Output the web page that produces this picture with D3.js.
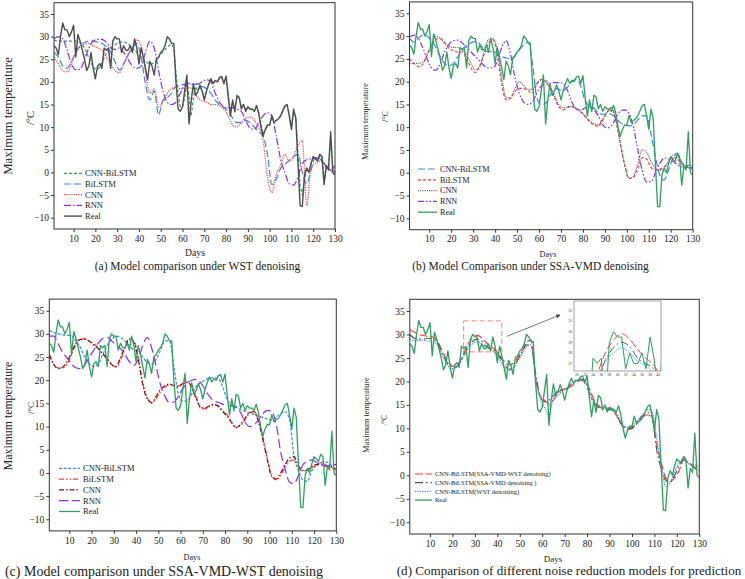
<!DOCTYPE html>
<html>
<head>
<meta charset="utf-8">
<script src="https://cdn.jsdelivr.net/npm/d3@7"></script>
<style>
body { margin: 0; background: #fff; }
svg { display: block; }
text { font-family: "Liberation Serif", "Times New Roman", serif; fill: #222; }
</style>
</head>
<body>
<svg id="chart" width="745" height="579"></svg>
<script>
/*
 * Maximum temperature prediction, four model comparison panels
 */

// ---- data ----
var dayDomain = [1, 130];
var tempDomain = [-12.5, 37.5];
var xTicks = d3.range(10, 131, 10);
var yTicks = d3.range(-10, 36, 5);
var allDays = d3.range(1, 131);
var sampleDays = d3.range(1, 130, 2).concat([130]);

var realTemp = [28, 27.5, 26, 30, 33, 31.5, 31.5, 30, 31, 32.5,
    25.5, 30.5, 29, 27, 25, 22.5, 23.5, 26.5, 23, 20.7,
    23.5, 24, 23, 27.5, 27, 27.5, 23, 29, 30, 29.5,
    29.5, 26.5, 28, 27, 27, 28, 26.5, 29.5, 27.5, 24,
    27.5, 25.5, 23, 20.5, 24.5, 23.5, 21.5, 25, 25.5, 26.5,
    27, 28, 30, 29.5, 28.5, 28.5, 20, 14, 13.5, 14.5,
    18, 21.5, 10.7, 16, 19.5, 17, 17.8, 19.3, 18, 16,
    18, 19.5, 20.7, 19.6, 20.3, 20, 21, 21.2, 19.6, 21.3,
    16.6, 12.5, 16, 13.4, 17, 16.6, 14, 15, 13.5, 14.5,
    14, 14, 13.5, 14.8, 13, 10, 8, 9.5, 10.5, 10.4,
    12.6, 11, 11.5, 11.8, 12.5, 13.6, 14.7, 15, 12.5, 9.5,
    14, 12, 2, -7.4, -7.5, -0.5, 1, 0, 2, 3.5,
    3, 2.5, 4, 3.5, -2.7, 1.5, 0.6, 9, 0, -0.5];

// (a) WST denoising
var wstCnnBilstm = [29.2, 29.1, 29, 29, 29, 29, 29, 29, 29, 29,
    29, 28.9, 28.7, 28.2, 27.5, 26.5, 25.3, 24.2, 23.3, 22.8,
    22.8, 23.3, 24.2, 25.3, 26.3, 27, 27.5, 27.9, 28.2, 28.5,
    28.7, 28.8, 28.8, 28.7, 28.4, 28, 27.5, 27, 26.5, 26,
    25.5, 25, 24.6, 24.2, 24, 24, 24.3, 24.8, 25.4, 26,
    26.6, 27.2, 27.7, 28.1, 28.3, 27.5, 22, 17, 14.5, 14.5,
    16.5, 20, 16.5, 12.5, 16.5, 19, 18, 19, 18, 16.5,
    17.8, 19.3, 20.5, 19.8, 20.2, 20, 20.8, 21, 20, 20.8,
    17.5, 13.5, 15.5, 14, 16.5, 16.5, 14.5, 15, 14, 14.3,
    14, 14, 13.6, 14.5, 13.3, 10.8, 8.5, 9.3, 10.3, 10.5,
    12.2, 11.3, 11.5, 11.8, 12.4, 13.4, 14.5, 14.9, 13, 10,
    13.3, 12.3, 4, -3, -5, -1.5, 0.5, 0.3, 1.8, 3.2,
    3, 2.7, 3.7, 3.5, -1.5, 1, 0.8, 7, 1, 0];
var wstBilstm = [26.5, 25.5, 23.5, 23, 24.5, 26.5, 28, 28.7, 29, 29,
    28.8, 28.5, 27.8, 26.5, 24.5, 22.6, 24, 26, 27.5, 28.5,
    25.5, 19.5, 16, 18, 12.7, 16, 16.5, 17.5, 19, 19.2,
    19.5, 19.3, 19.5, 19.5, 19, 18.5, 17.5, 16, 15, 14.3,
    13.5, 12, 11, 11, 11.5, 11, 10, 9, 8, 4,
    -2.7, -1.5, 0.8, 1.8, 2.7, 3.5, 4, 0, -2.5, 0.5,
    3.3, 3, 2, 1, 0, -0.5];
var wstCnn = [25.5, 24, 22.5, 22.2, 24, 26.5, 27.7, 28.3, 28.5, 28,
    27.5, 27, 25.5, 24, 22.5, 22, 24, 25.8, 27.5, 29.3,
    28, 22, 17.5, 18.5, 14.5, 15.5, 17.5, 18.5, 18.8, 18.5,
    18.5, 18.8, 18, 16.5, 15.8, 15.5, 15, 15, 14.7, 14,
    12.5, 10.5, 10, 11, 12, 12.2, 11.5, 10, 7, -1,
    -4.5, -0.5, 1.5, 4, 2.5, 3.5, 6, 7, -7.3, 1,
    2, 2.5, 2, 1, 0, 0.5];
var wstRnn = [29.5, 30, 29.5, 27, 24, 22.7, 22.8, 25, 27.5, 29,
    29.4, 29.4, 28.8, 27.5, 27.2, 27.5, 26.5, 25, 23.5, 23,
    23.5, 26.5, 29, 27.5, 22.5, 18, 15.5, 15, 15.5, 17.5,
    19.3, 19.7, 19.5, 19.5, 20, 20.5, 20, 17.5, 15.5, 14.5,
    14.3, 14.3, 14, 13.5, 11.5, 9.8, 9.5, 11, 12.5, 13.2,
    12.5, 8, 3, 0, -2.5, -2.8, -1, 2, 2.8, 3,
    3.2, 3, 2, 0.5, 0.8, 1.5];

// (b) SSA-VMD denoising
var svCnnBilstm = [29.5, 28.7, 29.5, 30.2, 30, 29, 27.5, 25.5, 24, 23.5,
    24, 25.5, 27, 28, 28.5, 28.8, 28.3, 27, 26.5, 26.8,
    26, 25.5, 25.2, 25, 25.8, 27, 28, 28.7, 24, 16.5,
    15, 15.2, 17, 18.5, 18.3, 18, 18.8, 20, 20.5, 19,
    15.8, 14.7, 14.2, 13.2, 12.8, 13, 12.8, 12, 11, 10.5,
    10.3, 10.6, 11.6, 12.5, 12.5, 8.5, 3.5, -0.5, -1.6, 0.6,
    3.2, 4.3, 2.3, 1.4, 1, 1];
var svBilstm = [25, 24, 23.3, 23.8, 25.8, 27.8, 29.3, 29.5, 28.5, 27.3,
    26.8, 26.5, 26.5, 25, 23, 22, 23.5, 26, 28.5, 29.2,
    26, 19.5, 16, 16.3, 17.8, 18.5, 18.5, 18, 17.5, 19.5,
    20.5, 20, 18.5, 16.5, 14.5, 13.8, 14.3, 14.5, 14, 13.3,
    12.3, 11.2, 10.5, 10.2, 11.5, 13.2, 14.3, 11.5, 6.5, 1.8,
    -1.3, -1, 1, 3.3, 3, 1.2, 0.6, 0.8, 1.3, 2.2,
    3.5, 3, 2, 1.2, 1.2, 1.2];
var svCnn = [24, 24, 24, 24.3, 26, 28.3, 30, 29.5, 28.5, 27.8,
    27.5, 27.5, 27, 25.8, 24, 22.6, 23.3, 26.5, 29.3, 29.5,
    27, 21, 16.5, 16.5, 18.5, 20, 19.2, 18.3, 18.3, 19.5,
    20.3, 20.3, 19, 17, 15, 14.3, 14.5, 14.5, 14.2, 13.5,
    12.5, 11.5, 10.8, 10.5, 11.8, 13.3, 14.3, 11.5, 6.5, 1.8,
    -1.2, -0.8, 2, 5, 4.5, 2.5, 1, 0.5, 1, 2.5,
    3.9, 3.5, 2, 1.2, 1, 1];
var svRnn = [29.8, 30.2, 29.5, 27.5, 25, 23, 22.5, 24, 26.5, 28.2,
    29, 29.1, 28.5, 27.5, 26.5, 25.5, 24.5, 23.5, 23, 23,
    24.5, 27.5, 29, 26, 21, 17.5, 15.5, 15, 15.5, 17.5,
    19, 19.5, 19.6, 19.8, 19.8, 19.6, 18, 15.5, 14, 13.8,
    14.2, 14.5, 13.8, 12.5, 10.5, 9.8, 10.3, 12, 13.5, 13.8,
    13, 10, 5, 0.5, -2, -2, 0, 2, 3.2, 3,
    2.5, 1.8, 1.3, 1.5, 1.7, 1.7];

// (c) SSA-VMD-WST denoising
var svwCnnBilstm = [30.8, 30.3, 30, 29.8, 29.7, 29.6, 28.5, 27, 25, 23.5,
    23, 23.5, 25.5, 27.5, 28.8, 29.5, 29.2, 28.5, 27.5, 26.5,
    26.3, 25, 23.8, 23.5, 24.5, 26.5, 28.5, 28.5, 23, 17,
    15.5, 15.5, 17, 18.7, 19.5, 20, 20.5, 20.5, 20.3, 18.5,
    15.8, 14.7, 14.2, 13.7, 13.3, 13, 12.6, 12.2, 12, 11.6,
    11.4, 12, 12.8, 13.2, 11.5, 3.5, 0.5, -1.5, -1.8, 0.5,
    1.7, 2.3, 2.4, 2, 1, 0.6];
var svwBilstm = [25.4, 23.5, 22.7, 22.6, 23.5, 25.5, 27.8, 28.8, 29, 28.5,
    27.8, 27, 25.8, 24.8, 23.5, 22.8, 24.3, 26.8, 28.7, 28.5,
    25, 19.5, 16.3, 15, 16, 17.5, 18.5, 19, 19, 18.8,
    19.2, 19.5, 18.8, 16.5, 14, 13.8, 14.3, 14.7, 14.5, 13.5,
    12.5, 11, 9.7, 10.2, 11.5, 12.9, 13.3, 11.5, 7.8, 3.2,
    -0.5, -1.5, -0.5, 1.2, 2.5, 2.8, 1, 0.4, 0.8, 1.2,
    1.5, 2.2, 1.8, 1.2, 0.8, 0.6];
var svwCnn = [25.6, 23.4, 22.5, 22.8, 24, 26, 28, 28.8, 28.8, 28.4,
    27.6, 26.8, 25.7, 24.6, 23.4, 23, 24.8, 27.2, 29, 28.2,
    24.5, 19, 16, 15.2, 16.5, 18, 18.8, 19.2, 18.8, 18.6,
    19.3, 19.6, 18.5, 16, 14.2, 14, 14.5, 14.8, 14.3, 13.2,
    12.2, 10.8, 9.8, 10.5, 11.8, 13, 13.2, 11, 7.2, 2.8,
    -0.8, -1.3, 0, 1.8, 3.2, 3.5, 1.5, 0.5, 0.6, 1.5,
    1.8, 2, 1.5, 1.5, 1, 0.8];
var svwRnn = [29.5, 29.5, 27.8, 26, 24.8, 23.5, 22.7, 22.5, 23.3, 25,
    26.5, 28, 29, 29.3, 28.5, 27.5, 26.8, 25.5, 24, 23.2,
    24.5, 27.5, 29.2, 27, 23, 19, 16.5, 15.2, 15.3, 16.5,
    18.2, 19.3, 20, 20.2, 19.5, 18, 16.5, 15.5, 15.2, 14.8,
    14.5, 14.5, 14.2, 13, 11, 10, 10.3, 11.5, 12.8, 13.5,
    13.3, 10.5, 4.5, 0.8, -2, -2.3, -0.5, 1.8, 2.5, 2.8,
    2.3, 1.8, 1.5, 1.6, 1.8, 1.8];

// (d) CNN-BiLSTM under different denoising
var cmpSvw = [31, 30.5, 30, 29.8, 29.6, 29.5, 28.8, 27, 25, 23.7,
    23.2, 24, 26, 28, 29.2, 29.8, 29.3, 28.3, 27.5, 26.8,
    25.5, 24.3, 23.5, 23.8, 25, 26.5, 28.3, 28.8, 21, 17,
    16, 15.2, 16, 17.5, 18.3, 18.5, 19, 19.8, 20.2, 20,
    18.5, 16.2, 14.7, 14.3, 14.3, 14.3, 12.8, 11, 10, 9.8,
    10.3, 11.5, 12.5, 12.9, 12, 6.5, 2.8, -0.5, -1.3, -0.5,
    1, 3.2, 2.8, 2, 1.3, 1.1];
var cmpSv = [30, 29.2, 29, 29, 29.2, 29, 28.5, 26.5, 24.5, 23.3,
    23, 23.8, 25.5, 27.3, 28.5, 29, 28.6, 27.5, 27, 26.5,
    25.3, 23.7, 22.6, 22.8, 24.5, 26.3, 27.8, 27.5, 22, 17,
    15.7, 16, 17, 18, 18.3, 18.5, 19.5, 20, 20.5, 20,
    17.5, 15.5, 14.5, 14, 14, 14, 13, 11.2, 10.2, 10,
    10.5, 11.8, 12.8, 13.4, 12.5, 5.5, 1.5, -1, -1.5, 0,
    2, 3.5, 2.8, 2, 1.2, 1];
var cmpWst = [29, 28.7, 28.8, 28.8, 28.6, 28.5, 28, 26.2, 24.2, 22.8,
    22.7, 23.7, 25.5, 27.2, 28, 28.5, 28, 27.2, 26.8, 26,
    24.7, 23, 22.3, 23, 24.3, 25.8, 27.3, 27.8, 21, 16.5,
    14.5, 12.8, 16.5, 17, 18, 18.3, 19.5, 20, 20.5, 20.3,
    18, 15.5, 15, 14.5, 14.2, 13.8, 13.3, 11.5, 10.3, 10.2,
    11, 12, 13, 14, 13.5, 8, 2.5, -2.3, -1.5, 0.8,
    2.5, 3.5, 2.5, 2.3, 2, 1.5];

// zoomed window of panel (d)
var zoomBoxDays = [25, 42];
var zoomBoxTemps = [26.3, 32.9];
var insetDays = [19.3, 40.7];
var insetTemps = [26.3, 32.9];
var insetXTicks = d3.range(20, 41, 2);
var insetYTicks = d3.range(27, 33, 1);

// ---- colours ----
var GREEN = "#2f9e5e";
var BLUE = "#3a87e6";
var RED = "#ff3b3b";
var PURPLE = "#8c2bff";
var GRAY = "#4d4d4d";

var svg = d3.select("#chart");

/**
 * Build one series object
 */
function series(name, days, values, color, dash, width) {
    return { name: name, days: days, values: values, color: color, dash: dash, width: width || 1.2 };
}

var panels = [
    {
        id: "a", l: 54, r: 335, t: 2.7, b: 229,
        caption: "(a) Model comparison under WST denoising", capX: 197.5, capY: 270, capSize: 11.5,
        daysLab: { x: 195, y: 256, size: 9.7 },
        yLab: { x: 8, y: 116, size: 12.8 }, unit: { x: 30, y: 118, size: 10.5 },
        legend: { x: 64, y: 173.3, dy: 10.7, len: 18, size: 8.5 },
        series: [
            series("CNN-BiLSTM", allDays, wstCnnBilstm, GREEN, "3,2", 1.2),
            series("BiLSTM", sampleDays, wstBilstm, BLUE, "7,3", 1.2),
            series("CNN", sampleDays, wstCnn, RED, "1.2,1.2", 1.2),
            series("RNN", sampleDays, wstRnn, PURPLE, "7,2,1.5,2", 1.2),
            series("Real", allDays, realTemp, GRAY, null, 1.4)
        ]
    },
    {
        id: "b", l: 409.5, r: 692.7, t: 1.9, b: 229.7,
        caption: "(b) Model Comparison under SSA-VMD denoising", capX: 530.5, capY: 270, capSize: 11.5,
        daysLab: { x: 548, y: 256.5, size: 8.2 },
        yLab: { x: 365.5, y: 121.5, size: 8.4 }, unit: { x: 385, y: 116.5, size: 8 },
        legend: { x: 418, y: 169, dy: 10.8, len: 19, size: 8.2 },
        series: [
            series("CNN-BiLSTM", sampleDays, svCnnBilstm, BLUE, "7,3", 1.2),
            series("BiLSTM", sampleDays, svBilstm, RED, "3,2", 1.2),
            series("CNN", sampleDays, svCnn, "#555", "1,1.2", 1.2),
            series("RNN", sampleDays, svRnn, PURPLE, "6,2,1.5,2,1.5,2", 1.2),
            series("Real", allDays, realTemp, GREEN, null, 1.3)
        ]
    },
    {
        id: "c", l: 49.3, r: 336.3, t: 299.1, b: 530.9,
        caption: "(c) Model comparison under SSA-VMD-WST denoising", capX: 164, capY: 575.5, capSize: 14,
        daysLab: { x: 192, y: 560, size: 8.2 },
        yLab: { x: 7.5, y: 416, size: 11.8 }, unit: { x: 31, y: 408, size: 9 },
        legend: { x: 59, y: 468.3, dy: 10.8, len: 21, size: 8.5 },
        series: [
            series("CNN-BiLSTM", sampleDays, svwCnnBilstm, BLUE, "3,1.6", 1.2),
            series("BiLSTM", sampleDays, svwBilstm, RED, "5,2,1.5,2,1.5,2", 1.2),
            series("CNN", sampleDays, svwCnn, "#8b0a0a", "5,2,1.5,2", 1.2),
            series("RNN", sampleDays, svwRnn, PURPLE, "9,4", 1.2),
            series("Real", allDays, realTemp, GREEN, null, 1.3)
        ]
    },
    {
        id: "d", l: 409.8, r: 699.3, t: 299.3, b: 534,
        caption: "(d) Comparison of different noise reduction models for prediction", capX: 569, capY: 574.5, capSize: 13.1,
        daysLab: { x: 553, y: 561.5, size: 9 },
        yLab: { x: 366, y: 415, size: 8.2 }, unit: { x: 384.5, y: 420, size: 7.5 },
        legend: { x: 415, y: 474, dy: 8.7, len: 17, size: 6.5 },
        series: [
            series("CNN-BiLSTM(SSA-VMD-WST denoising)", sampleDays, cmpSvw, RED, "8,3", 1.2),
            series("CNN-BiLSTM(SSA-VMD denoising )", sampleDays, cmpSv, "#555", "8,3,1.5,3", 1.2),
            series("CNN-BiLSTM(WST denoising)", sampleDays, cmpWst, BLUE, "1.2,1.2", 1.2),
            series("Real", allDays, realTemp, GREEN, null, 1.3)
        ]
    }
];

/**
 * Path generator for a series on given scales
 */
function seriesPath(s, x, y) {
    var pts = s.days.map(function (d, i) { return [d, s.values[i]]; });
    var curve = s.days === allDays ? d3.curveLinear : d3.curveMonotoneX;
    return d3.line().x(function (d) { return x(d[0]); }).y(function (d) { return y(d[1]); }).curve(curve)(pts);
}

/**
 * Rotated label on the left of a panel
 */
function rotatedText(g, pos, str) {
    g.append("text")
        .attr("transform", "translate(" + pos.x + "," + pos.y + ") rotate(-90)")
        .attr("text-anchor", "middle")
        .attr("dy", "0.35em")
        .style("font-size", pos.size + "px")
        .text(str);
}

/**
 * Draw one panel: axes, lines, frame, legend, labels
 */
function drawPanel(p) {
    var g = svg.append("g").attr("id", "panel-" + p.id);
    var x = d3.scaleLinear().domain(dayDomain).range([p.l, p.r]);
    var y = d3.scaleLinear().domain(tempDomain).range([p.b, p.t]);

    svg.append("clipPath").attr("id", "clip-" + p.id)
        .append("rect")
        .attr("x", p.l).attr("y", p.t)
        .attr("width", p.r - p.l).attr("height", p.b - p.t);

    var xAxis = g.append("g")
        .attr("transform", "translate(0," + p.b + ")")
        .call(d3.axisBottom(x).tickValues(xTicks).tickSize(3).tickPadding(3).tickFormat(d3.format("d")));
    var yAxis = g.append("g")
        .attr("transform", "translate(" + p.l + ",0)")
        .call(d3.axisLeft(y).tickValues(yTicks).tickSize(3).tickPadding(2).tickFormat(d3.format("d")));
    [xAxis, yAxis].forEach(function (ax) {
        ax.select(".domain").remove();
        ax.selectAll("line").attr("stroke", "#333");
        ax.selectAll("text")
            .style("font-family", "\"Liberation Serif\", \"Times New Roman\", serif")
            .style("font-size", "9.5px")
            .attr("fill", "#333");
    });

    var lines = g.append("g").attr("clip-path", "url(#clip-" + p.id + ")");
    p.series.forEach(function (s) {
        lines.append("path")
            .attr("d", seriesPath(s, x, y))
            .attr("fill", "none")
            .attr("stroke", s.color)
            .attr("stroke-width", s.width)
            .attr("stroke-dasharray", s.dash)
            .attr("stroke-linejoin", "round");
    });

    g.append("rect")
        .attr("x", p.l).attr("y", p.t)
        .attr("width", p.r - p.l).attr("height", p.b - p.t)
        .attr("fill", "none").attr("stroke", "#333").attr("stroke-width", 1);

    // legend
    var lg = p.legend;
    p.series.forEach(function (s, i) {
        var ly = lg.y + i * lg.dy;
        g.append("line")
            .attr("x1", lg.x).attr("x2", lg.x + lg.len)
            .attr("y1", ly).attr("y2", ly)
            .attr("stroke", s.color).attr("stroke-width", s.width)
            .attr("stroke-dasharray", s.dash);
        g.append("text")
            .attr("x", lg.x + lg.len + 3).attr("y", ly)
            .attr("dy", "0.35em")
            .style("font-size", lg.size + "px")
            .text(s.name);
    });

    g.append("text")
        .attr("x", p.daysLab.x).attr("y", p.daysLab.y)
        .attr("text-anchor", "middle")
        .style("font-size", p.daysLab.size + "px")
        .text("Days");
    g.append("text")
        .attr("x", p.capX).attr("y", p.capY)
        .attr("text-anchor", "middle")
        .style("font-size", p.capSize + "px")
        .text(p.caption);
    rotatedText(g, p.yLab, "Maximum temperature");
    rotatedText(g, p.unit, "/\u00b0C");

    return { g: g, x: x, y: y };
}

/**
 * Zoomed inset of panel (d) with marker box and arrow
 */
function drawInset(p, main) {
    var box = { l: 574, r: 661, t: 301, b: 371 };
    var g = main.g;
    var ix = d3.scaleLinear().domain(insetDays).range([box.l, box.r]);
    var iy = d3.scaleLinear().domain(insetTemps).range([box.b, box.t]);

    // dashed marker in the main plot
    g.append("rect")
        .attr("x", main.x(zoomBoxDays[0])).attr("y", main.y(zoomBoxTemps[1]))
        .attr("width", main.x(zoomBoxDays[1]) - main.x(zoomBoxDays[0]))
        .attr("height", main.y(zoomBoxTemps[0]) - main.y(zoomBoxTemps[1]))
        .attr("fill", "none").attr("stroke", "#f08080")
        .attr("stroke-width", 1).attr("stroke-dasharray", "5,3");

    svg.append("defs").append("marker")
        .attr("id", "arrowhead").attr("viewBox", "0 0 10 10")
        .attr("refX", 9).attr("refY", 5)
        .attr("markerWidth", 6).attr("markerHeight", 5)
        .attr("orient", "auto")
        .append("path").attr("d", "M0,0 L10,5 L0,10 z").attr("fill", "#333");
    g.append("line")
        .attr("x1", main.x(zoomBoxDays[1]) + 5).attr("y1", main.y((zoomBoxTemps[0] + zoomBoxTemps[1]) / 2))
        .attr("x2", box.l - 14).attr("y2", box.t + 14)
        .attr("stroke", "#555").attr("stroke-width", 0.8)
        .attr("marker-end", "url(#arrowhead)");

    g.append("rect")
        .attr("x", box.l).attr("y", box.t)
        .attr("width", box.r - box.l).attr("height", box.b - box.t)
        .attr("fill", "#fff").attr("stroke", "#888").attr("stroke-width", 0.8);

    svg.append("clipPath").attr("id", "clip-inset")
        .append("rect")
        .attr("x", box.l).attr("y", box.t)
        .attr("width", box.r - box.l).attr("height", box.b - box.t);
    var lines = g.append("g").attr("clip-path", "url(#clip-inset)");
    p.series.forEach(function (s) {
        lines.append("path")
            .attr("d", seriesPath(s, ix, iy))
            .attr("fill", "none")
            .attr("stroke", s.color)
            .attr("stroke-width", 1)
            .attr("stroke-dasharray", s.dash);
    });

    insetXTicks.forEach(function (t) {
        g.append("text")
            .attr("x", ix(t)).attr("y", box.b + 5)
            .attr("text-anchor", "middle")
            .style("font-size", "3.6px").attr("fill", "#444")
            .text(t);
    });
    insetYTicks.forEach(function (t) {
        g.append("text")
            .attr("x", box.l - 2).attr("y", iy(t))
            .attr("text-anchor", "end").attr("dy", "0.35em")
            .style("font-size", "3.6px").attr("fill", "#444")
            .text(t);
    });
}

var drawn = panels.map(drawPanel);
drawInset(panels[3], drawn[3]);
</script>
</body>
</html>
